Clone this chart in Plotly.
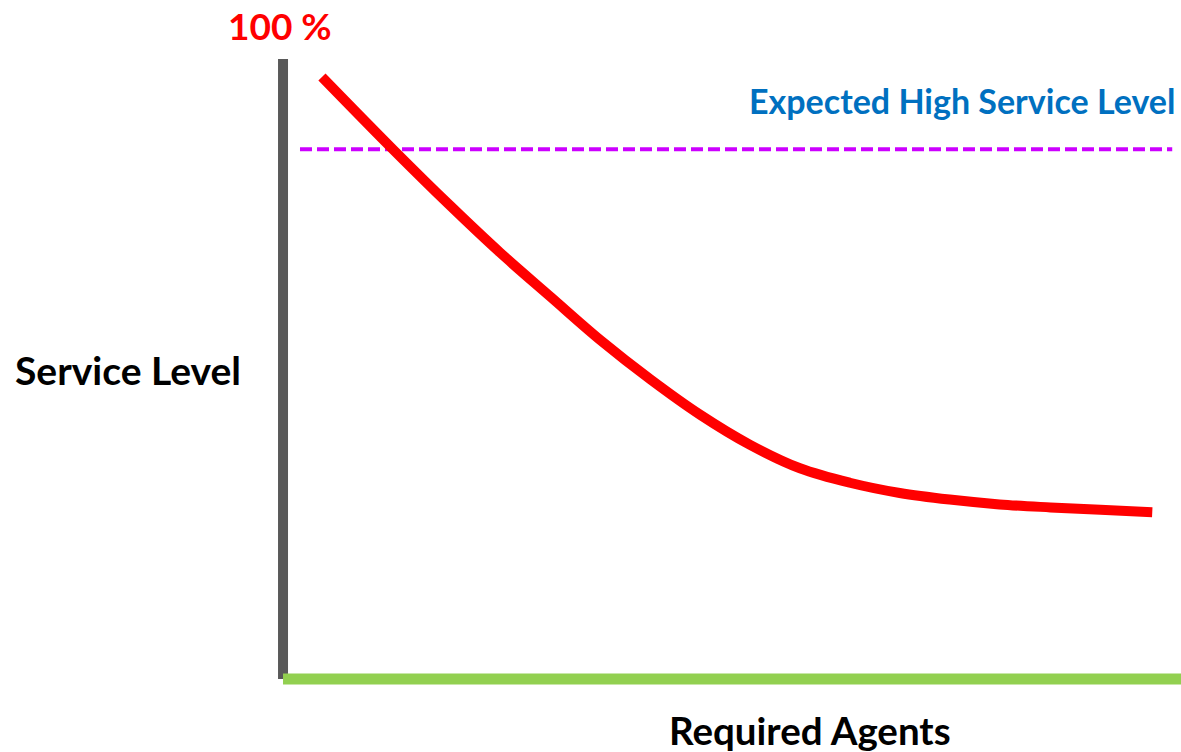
import plotly.graph_objects as go

# Service level vs. required agents (arbitrary agent units, percent service level)
agents = [3.9, 11, 16.7, 21.7, 26.8, 31.8, 36.8, 41.8, 46.8, 51.8, 56.8,
          61.8, 66.8, 71.8, 76.9, 81.9, 87.1]
service_level = [100, 88.0, 78.7, 70.9, 63.5, 56.3, 49.8, 43.9, 38.9, 35.0,
                 32.6, 30.9, 29.8, 29.0, 28.5, 28.1, 27.7]

expected_level = 88
x_min, x_max = 0, 90
axis_top = 103

W, H = 1181, 752
FONT = "Lato"

fig = go.Figure()

fig.add_trace(go.Scatter(
    x=agents, y=service_level, mode="lines",
    line=dict(color="#FF0000", width=10, shape="spline", smoothing=1.0),
    hoverinfo="skip", showlegend=False,
))

# vertical (service level) axis
fig.add_shape(type="line", x0=x_min, x1=x_min, y0=0, y1=axis_top,
              line=dict(color="#595959", width=10), layer="below")
# horizontal (agents) axis
fig.add_shape(type="line", x0=x_min, x1=x_max, y0=0, y1=0,
              line=dict(color="#92D050", width=11), layer="below")
# expected service level
fig.add_shape(type="line", x0=1.7, x1=89.1, y0=expected_level, y1=expected_level,
              line=dict(color="#CC00FF", width=4, dash="12px,5px"), layer="below")


def px(x, y):
    return dict(x=x / W, y=1 - y / H, xref="paper", yref="paper")


annotations = [
    dict(text="<b>100 %</b>", font=dict(color="#FF0000", size=37, family=FONT), **px(280, 26)),
    dict(text="<b>Expected High Service Level</b>", font=dict(color="#0070C0", size=34, family=FONT), **px(962, 100)),
    dict(text="<b>Service Level</b>", font=dict(color="#000000", size=39, family=FONT), **px(128, 370)),
    dict(text="<b>Required Agents</b>", font=dict(color="#000000", size=38.5, family=FONT), **px(810, 730)),
]
for a in annotations:
    fig.add_annotation(showarrow=False, xanchor="center", yanchor="middle", **a)

fig.update_layout(
    width=W, height=H,
    margin=dict(l=0, r=0, t=0, b=0),
    paper_bgcolor="white", plot_bgcolor="white",
    xaxis=dict(range=[-28.36, 89.98], visible=False, fixedrange=True),
    yaxis=dict(range=[-12.13, 112.79], visible=False, fixedrange=True),
)

fig.write_html("out.html")
